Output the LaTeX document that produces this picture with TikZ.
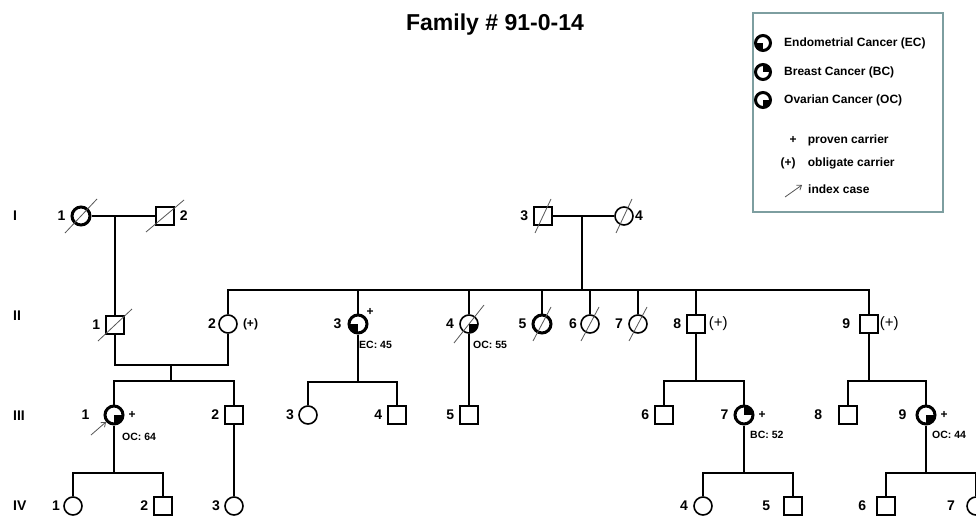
\documentclass[tikz,border=0pt]{standalone}
\usepackage{fontspec}
\setmainfont{Liberation Sans}
\usetikzlibrary{positioning, arrows.meta}

\definecolor{legendgrey}{RGB}{125,158,160}
\definecolor{slashgrey}{RGB}{85,85,85}

\tikzset{
    person/.style={draw, line width=1.6pt, inner sep=0pt, minimum size=18pt},
    female/.style={person, circle},
    male/.style={person, rectangle, minimum size=17.5pt},
    affected/.style={line width=3pt},
    ec/.style={path picture={\fill (path picture bounding box.center) rectangle (path picture bounding box.south west);}},
    bc/.style={path picture={\fill (path picture bounding box.center) rectangle (path picture bounding box.north east);}},
    oc/.style={path picture={\fill (path picture bounding box.center) rectangle (path picture bounding box.south east);}},
    rel/.style={line width=1.8pt},
    slash/.style={draw=slashgrey, line width=0.8pt},
    idxarrow/.style={draw=slashgrey, line width=0.8pt, -{Straight Barb[length=4pt, width=6pt]}},
    num/.style={font=\bfseries\fontsize{14}{16}\selectfont, inner sep=1pt},
    gen/.style={font=\bfseries\fontsize{14}{16}\selectfont, inner sep=0pt, anchor=west},
    carrier/.style={font=\bfseries\fontsize{12}{14}\selectfont, inner sep=1pt},
    obl/.style={font=\fontsize{15}{17}\selectfont, inner sep=1pt},
    cause/.style={font=\bfseries\fontsize{10.5}{12}\selectfont, inner sep=1pt},
    legtext/.style={font=\bfseries\fontsize{12}{14}\selectfont, inner sep=1pt, text height=9pt, text depth=2.5pt},
    heading/.style={font=\bfseries\fontsize{23}{27}\selectfont, inner sep=0pt},
}

\begin{document}
\begin{tikzpicture}[x=1pt, y=-1pt, label distance=4pt]
    \useasboundingbox (0,0) rectangle (976,516);
    \clip (0,0) rectangle (976,516);

    % title and legend
    \node[heading, anchor=base] (title) at (495,30.5) {Family \# 91-0-14};
    \draw[draw=legendgrey, line width=2pt] (753,13) rectangle (943,212);
    \node[female, affected, ec, minimum size=15pt] (leg_ec) at (763,43) {};
    \node[female, affected, bc, minimum size=15pt] (leg_bc) at (763,72) {};
    \node[female, affected, oc, minimum size=15pt] (leg_oc) at (763,100) {};
    \node[legtext, right=11pt of leg_ec] (leg_ec_t) {Endometrial Cancer (EC)};
    \node[legtext, right=11pt of leg_bc] (leg_bc_t) {Breast Cancer (BC)};
    \node[legtext, right=11pt of leg_oc] (leg_oc_t) {Ovarian Cancer (OC)};
    \node[legtext] (leg_plus) at (793,140) {+};
    \node[legtext, right=9pt of leg_plus] (leg_plus_t) {proven carrier};
    \node[legtext] (leg_obl) at (788,163) {(+)};
    \node[legtext, right=10pt of leg_obl] (leg_obl_t) {obligate carrier};
    \coordinate (leg_a0) at (785,197);
    \coordinate (leg_a1) at (802,185);
    \draw[idxarrow] (leg_a0) -- (leg_a1);
    \node[legtext, anchor=west] (leg_idx_t) at (807,190) {index case};

    % generation I
    \node[gen] (gen_I) at (13,216) {I};
    \node[female, affected] (I_1) at (81,216) [label={[num]left:1}] {};
    \node[male] (I_2) at (165,216) [label={[num]right:2}] {};
    \node[male] (I_3) at (543,216) [label={[num]left:3}] {};
    \node[female] (I_4) at (624,216) [label={[num, label distance=0pt]right:4}] {};

    % generation II
    \node[gen] (gen_II) at (13,316) {II};
    \node[male] (II_1) at (115,325) [label={[num]left:1}] {};
    \node[female] (II_2) at (228,324) [label={[num, label distance=1pt]left:2}, label={[carrier, label distance=4pt]right:(+)}] {};
    \node[female, affected, ec] (II_3) at (358,324) [label={[num, label distance=5pt]left:3}, label={[carrier, label distance=0pt]north east:+}] {};
    \node[female, oc] (II_4) at (469,324) [label={[num]left:4}] {};
    \node[female, affected] (II_5) at (542,324) [label={[num]left:5}] {};
    \node[female] (II_6) at (590,324) [label={[num, label distance=2pt]left:6}] {};
    \node[female] (II_7) at (638,324) [label={[num]left:7}] {};
    \node[male] (II_8) at (696,324) [label={[num]left:8}, label={[obl, label distance=2pt]right:(+)}] {};
    \node[male] (II_9) at (869,324) [label={[num, label distance=8pt]left:9}, label={[obl, label distance=0pt]right:(+)}] {};

    % generation III
    \node[gen] (gen_III) at (13,416) {III};
    \node[female, affected, oc] (III_1) at (114,415) [label={[num, label distance=13pt]left:1}, label={[carrier, label distance=3pt]right:+}] {};
    \node[male] (III_2) at (234,415) [label={[num]left:2}] {};
    \node[female] (III_3) at (308,415) [label={[num, label distance=3pt]left:3}] {};
    \node[male] (III_4) at (397,415) [label={[num]left:4}] {};
    \node[male] (III_5) at (469,415) [label={[num]left:5}] {};
    \node[male] (III_6) at (664,415) [label={[num]left:6}] {};
    \node[female, affected, bc] (III_7) at (744,415) [label={[num]left:7}, label={[carrier, label distance=3pt]right:+}] {};
    \node[male] (III_8) at (848,415) [label={[num, label distance=15pt]left:8}] {};
    \node[female, affected, oc] (III_9) at (926,415) [label={[num, label distance=8pt]left:9}, label={[carrier, label distance=3pt]right:+}] {};

    % generation IV
    \node[gen] (gen_IV) at (13,506) {IV};
    \node[female] (IV_1) at (73,506) [label={[num, label distance=2pt]left:1}] {};
    \node[male] (IV_2) at (163,506) [label={[num]left:2}] {};
    \node[female] (IV_3) at (234,506) [label={[num, label distance=3pt]left:3}] {};
    \node[female] (IV_4) at (703,506) [label={[num]left:4}] {};
    \node[male] (IV_5) at (793,506) [label={[num, label distance=12pt]left:5}] {};
    \node[male] (IV_6) at (886,506) [label={[num, label distance=9pt]left:6}] {};
    \node[female] (IV_7) at (976,506) [label={[num, label distance=10pt]left:7}] {};

    % diagnoses
    \node[cause, below right=16pt and 0pt of II_3.center] (II_3_dx) {EC: 45};
    \node[cause, below right=16pt and 3pt of II_4.center] (II_4_dx) {OC: 55};
    \node[cause, below right=17pt and 7pt of III_1.center] (III_1_dx) {OC: 64};
    \node[cause, below right=15pt and 5pt of III_7.center] (III_7_dx) {BC: 52};
    \node[cause, below right=15pt and 5pt of III_9.center] (III_9_dx) {OC: 44};

    % matings and sibships
    \draw[rel] (I_1) -- (I_2);
    \coordinate (m_I12) at (115,216);
    \draw[rel] (m_I12) -- (II_1);
    \draw[rel] (I_3) -- (I_4);
    \coordinate (m_I34) at (582,216);
    \coordinate (s_II) at (582,290);
    \draw[rel] (m_I34) -- (s_II);
    \draw[rel] (II_2) |- (s_II) -| (II_9);
    \foreach \n in {3,...,8}
        \draw[rel] (II_\n) -- (II_\n |- s_II);

    \coordinate (m_II12) at (171,365);
    \coordinate (s_III12) at (171,381);
    \draw[rel] (II_1) |- (m_II12) -| (II_2);
    \draw[rel] (m_II12) -- (s_III12);
    \draw[rel] (III_1) |- (s_III12) -| (III_2);

    \coordinate (s_II3) at (358,382);
    \draw[rel] (II_3) -- (s_II3);
    \draw[rel] (III_3) |- (s_II3) -| (III_4);
    \draw[rel] (II_4) -- (III_5);
    \coordinate (s_II8) at (696,381);
    \draw[rel] (II_8) -- (s_II8);
    \draw[rel] (III_6) |- (s_II8) -| (III_7);
    \coordinate (s_II9) at (869,381);
    \draw[rel] (II_9) -- (s_II9);
    \draw[rel] (III_8) |- (s_II9) -| (III_9);

    \coordinate (s_III1) at (114,473);
    \draw[rel] (III_1) -- (s_III1);
    \draw[rel] (IV_1) |- (s_III1) -| (IV_2);
    \draw[rel] (III_2) -- (IV_3);
    \coordinate (s_III7) at (744,473);
    \draw[rel] (III_7) -- (s_III7);
    \draw[rel] (IV_4) |- (s_III7) -| (IV_5);
    \coordinate (s_III9) at (926,473);
    \draw[rel] (III_9) -- (s_III9);
    \draw[rel] (IV_6) |- (s_III9) -| (IV_7);

    % deceased and index case
    \foreach \p/\dx/\dy in {I_1/16/17, I_2/19/16, I_3/8/17, I_4/8/17, II_1/17/16, II_4/15/19, II_5/9/17, II_6/9/17, II_7/9/17}
        \draw[slash] ([shift={(-\dx,\dy)}]\p.center) -- ([shift={(\dx,-\dy)}]\p.center);
    \coordinate (arr_III1) at (91,435);
    \draw[idxarrow] (arr_III1) -- (III_1);
\end{tikzpicture}
\end{document}
